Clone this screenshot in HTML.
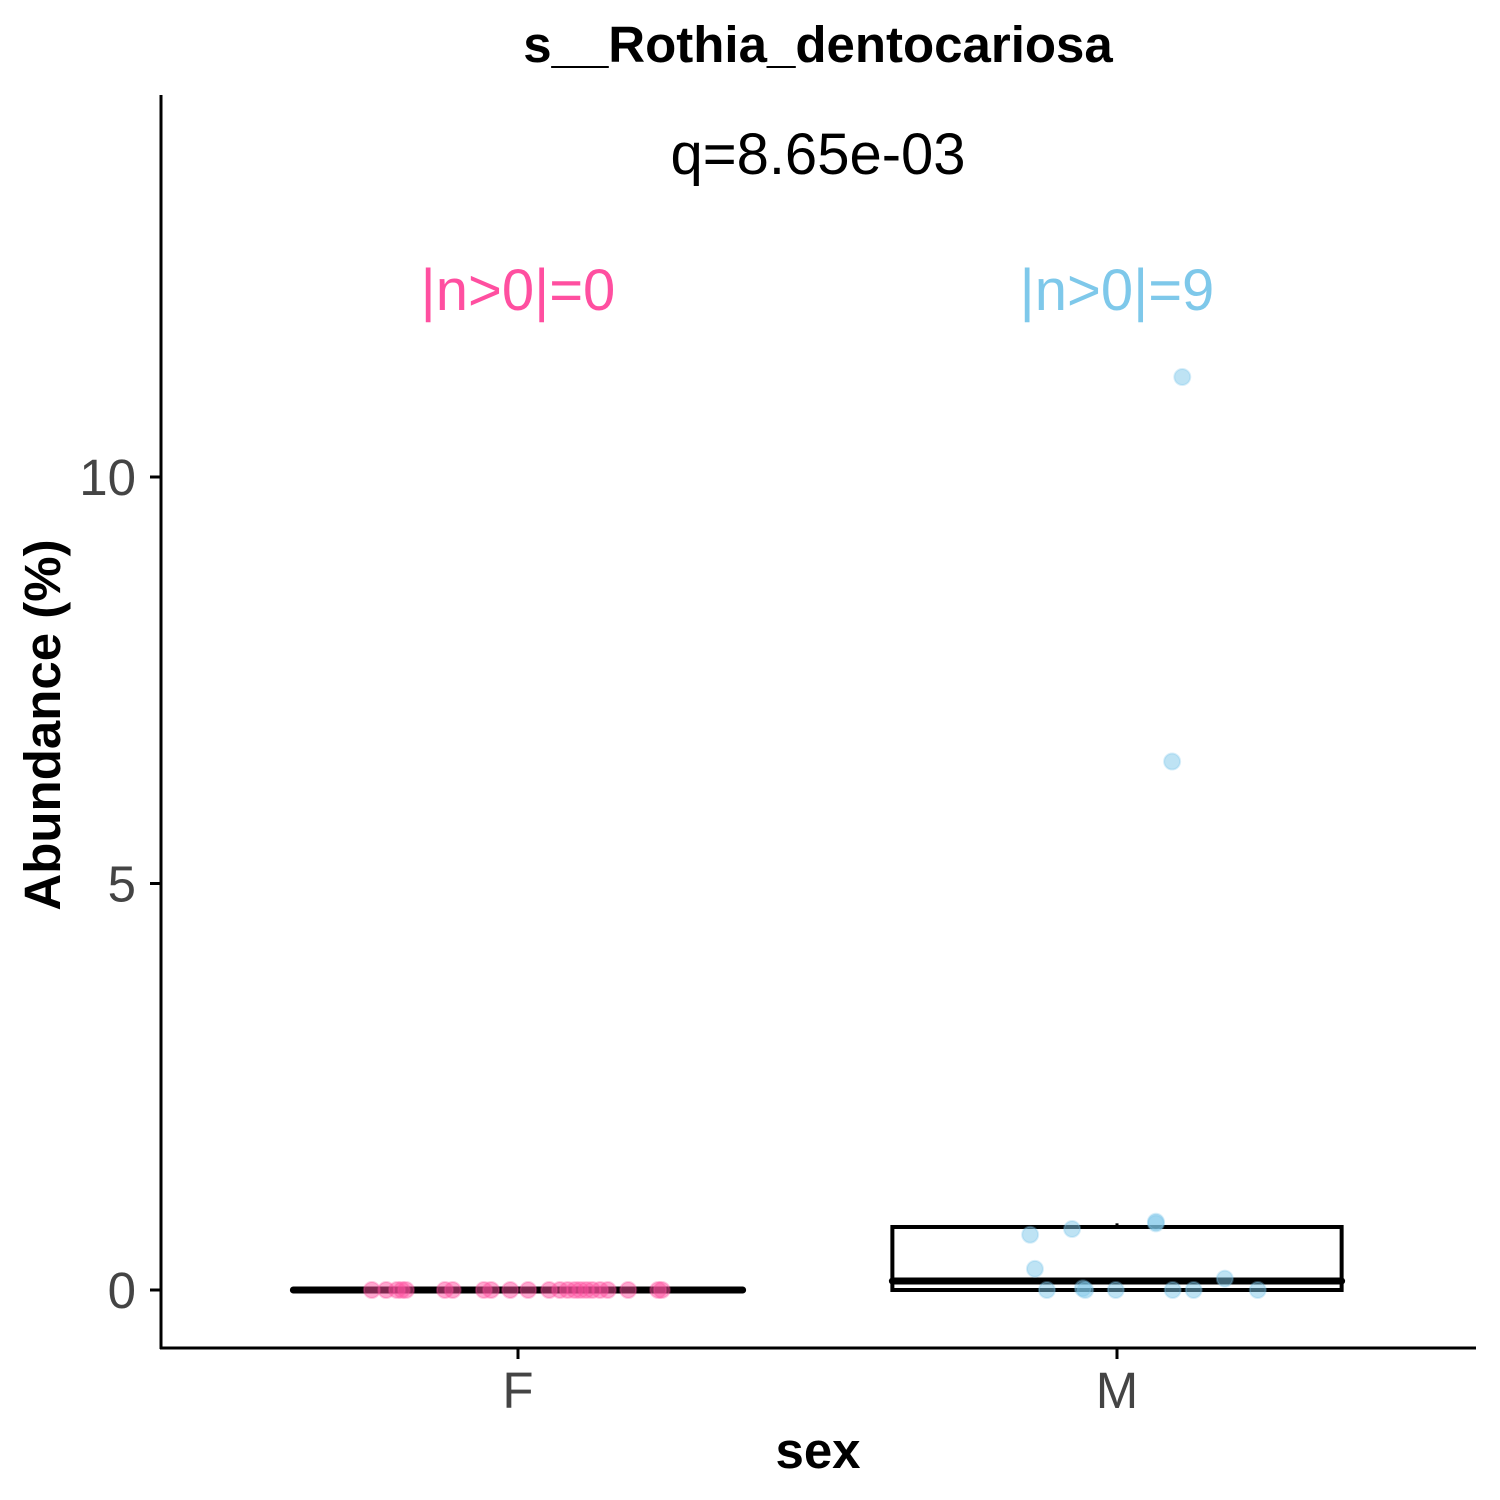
<!DOCTYPE html>
<html><head><meta charset="utf-8"><style>
html,body{margin:0;padding:0;background:#fff;}
svg{display:block;font-family:"Liberation Sans",Arial,sans-serif;}
</style></head><body>
<svg id="chart" width="1500" height="1500" viewBox="0 0 1500 1500">
<text x="818" y="62" text-anchor="middle" font-size="51" font-weight="bold">s__Rothia_dentocariosa</text>
<text x="818" y="174" text-anchor="middle" font-size="58">q=8.65e-03</text>
<g id="plot"></g>
<line x1="161" y1="95" x2="161" y2="1349" stroke="#000" stroke-width="3"/>
<line x1="160" y1="1348" x2="1476" y2="1348" stroke="#000" stroke-width="3"/>
<g id="yticks"></g>
<g id="xticks"></g>
<text x="818" y="1468" text-anchor="middle" font-size="51" font-weight="bold">sex</text>
<text transform="translate(60,725) rotate(-90)" text-anchor="middle" font-size="51" font-weight="bold">Abundance (%)</text>
</svg>
<script>
const categories = ["F","M"];
const colors = ["#FF4FA0","#7EC8EA"];
const nLabels = ["|n>0|=0","|n>0|=9"];
const yTicks = [0,5,10];
// box stats: [q1, median, q3, whiskerHigh]
const boxF = [0,0,0,0];
const boxM = [0,0.11,0.775,0.82];
// points: jitter offset (category units) and value
const fJitter = [-0.244,-0.22,-0.202,-0.194,-0.187,-0.122,-0.109,-0.057,-0.045,-0.013,0.017,0.052,0.07,0.083,0.095,0.104,0.114,0.124,0.137,0.15,0.184,0.234,0.240];
const fValues = [0,0,0,0,0,0,0,0,0,0,0,0,0,0,0,0,0,0,0,0,0,0,0];
const mJitter = [0.109,0.092,-0.145,-0.075,0.065,0.065,-0.137,0.18,-0.117,-0.057,-0.053,-0.002,0.093,0.128,0.235];
const mValues = [11.23,6.5,0.68,0.75,0.84,0.82,0.26,0.14,0,0.02,0,0,0,0,0];

const x = c => 518 + c*599;
const y = v => 1290 - v*81.3;
const halfW = 0.375;
const NS="http://www.w3.org/2000/svg";
function mk(tag, attrs, parent){const e=document.createElementNS(NS,tag);for(const k in attrs)e.setAttribute(k,attrs[k]);parent.appendChild(e);return e;}
const plot=document.getElementById('plot');
[boxF,boxM].forEach((b,i)=>{
  const cx=x(i);
  const w=mk('line',{x1:cx,x2:cx,y1:y(b[2]),y2:y(b[3]),stroke:'#000','stroke-width':3},plot);
  
  
  const r=mk('rect',{x:x(i-halfW),y:y(b[2]),width:x(i+halfW)-x(i-halfW),height:Math.max(y(b[0])-y(b[2]),0.5),fill:'#fff',stroke:'#000','stroke-width':4},plot);
  
  
  const m=mk('line',{x1:x(i-halfW),x2:x(i+halfW),y1:y(b[1]),y2:y(b[1]),stroke:'#000','stroke-width':7,'stroke-linecap':'round'},plot);
  
  
});
[[fJitter,fValues],[mJitter,mValues]].forEach((s,i)=>{
  s[0].forEach((j,k)=>{
    const p=mk('circle',{cx:x(i+j),cy:y(s[1][k]),r:8,fill:colors[i],'fill-opacity':0.5,stroke:colors[i],'stroke-opacity':0.3,'stroke-width':2},plot);
    
    
  });
  const t=mk('text',{x:x(i),y:310,'text-anchor':'middle','font-size':58,fill:colors[i]},plot);
  t.textContent=nLabels[i];
  
  
});
const yt=document.getElementById('yticks');
yTicks.forEach(v=>{
  const l=mk('line',{x1:150,x2:161,y1:y(v),y2:y(v),stroke:'#000','stroke-width':3},yt);
  
  
  const t=mk('text',{x:136,y:y(v)+18,'text-anchor':'end','font-size':51,fill:'#444'},yt);
  t.textContent=v;
  
  
});
const xt=document.getElementById('xticks');
categories.forEach((c,i)=>{
  const l=mk('line',{x1:x(i),x2:x(i),y1:1348,y2:1359,stroke:'#000','stroke-width':3},xt);
  
  
  const t=mk('text',{x:x(i),y:1408,'text-anchor':'middle','font-size':51,fill:'#444'},xt);
  t.textContent=c;
  
  
});
</script>
</body></html>
